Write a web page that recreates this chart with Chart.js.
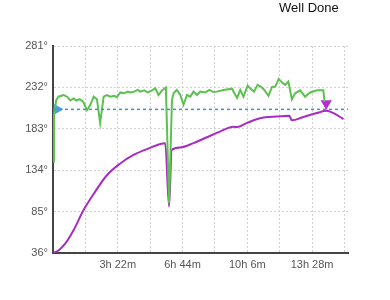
<!DOCTYPE html>
<html><head><meta charset="utf-8">
<script src="https://cdn.jsdelivr.net/npm/chart.js@4/dist/chart.umd.min.js"></script>
<style>html,body{margin:0;padding:0;background:#fff;}#wrap{width:390px;height:300px;position:relative}</style>
</head><body><div id="wrap"><canvas id="c" width="390" height="300"></canvas></div>
<script>
const chartTitle = "Well Done";
// minutes since start
const ambientMinutes = [0,3,7,10,17,33,44,54,64,73,83,94,106,116,127,137,147,158,168,179,191,199,210,222,233,241,253,264,272,285,295,309,319,329,340,352,362,371,376,386,397,407,418,428,438,449,459,475,488,499,511,532,558,574,584,594,607,617,627,638,648,659,672,683,693,704,714,724,734,745,755,771,786,802,823,843,847];
const ambientTemps   = [144,200,209,217,221,223,221,216.5,219,216.5,218,215,205,211,221,218,190,221,223,221,222,220.5,226,225,227,226,227,229,227,228.5,226,228.5,231,223,228.5,232,95,217,225,229,223,211.5,223,221,227,223,227,226,229,226.5,227,229,230.5,219.5,229,221,234,230,227,235,233,229,222,232.5,233,242,238,235,239,218,225,228.5,221,226,228.5,228.5,215];
const internalMinutes = [0,17,38,64,95,127,168,210,251,293,350,362,370,397,438,480,522,563,574,605,646,698,737,745,781,823,852,875,906];
const internalTemps   = [36,39,47,63,86.5,106,128,142,152,159,166,91,158,161,166,173,180,185.5,185,190,195.6,197.5,198.3,193,197,201.6,204.3,201.6,194.4];
const targetTemp = 206;
const targetMarker = {x: 12, y: 206};
const peakMarker = {x: 852, y: 213};
const xGridMinutes = [0,101,202,303,404,505,606,707,808,909];
const xTickValues = [202,404,606,808];
const xTickLabels = ["3h 22m","6h 44m","10h 6m","13h 28m"];
const yTickValues = [36,85,134,183,232,281];
const yTickLabels = ["36°","85°","134°","183°","232°","281°"];

const toXY = (xs, ys) => xs.map((x,i)=>({x, y: ys[i]}));

const titlePlugin = {
  id: 'cornerTitle',
  afterDraw(chart){
    const ctx = chart.ctx;
    ctx.save();
    ctx.font = '13px "Liberation Sans", Arial, sans-serif';
    ctx.fillStyle = '#111';
    ctx.textBaseline = 'alphabetic';
    ctx.fillText(chartTitle, 279, 12);
    ctx.restore();
  }
};

Chart.defaults.font.family = '"Liberation Sans", Arial, sans-serif';

new Chart(document.getElementById('c'), {
  type: 'line',
  data: {
    datasets: [
      {
        data: [{x:0,y:targetTemp},{x:920,y:targetTemp}],
        borderColor: '#3f8fe0', borderWidth: 1.5, borderDash: [3,3],
        pointRadius: 0, tension: 0
      },
      {
        data: toXY(ambientMinutes, ambientTemps),
        borderColor: '#5cc150', borderWidth: 2,
        pointRadius: 0, tension: 0
      },
      {
        data: toXY(internalMinutes, internalTemps),
        borderColor: '#a82cc4', borderWidth: 2,
        pointRadius: 0, cubicInterpolationMode: 'monotone'
      },
      {
        data: [targetMarker],
        showLine: false, pointStyle: 'triangle', rotation: 90,
        pointRadius: 6.5, backgroundColor: '#4a9ce8', borderColor: '#4a9ce8', borderWidth: 0
      },
      {
        data: [peakMarker],
        showLine: false, pointStyle: 'triangle', rotation: 180,
        pointRadius: 6.5, backgroundColor: '#b52fd0', borderColor: '#b52fd0', borderWidth: 0
      }
    ]
  },
  options: {
    responsive: false,
    animation: false,
    devicePixelRatio: 1,
    layout: { padding: { top: 46, right: 42, left: 0, bottom: 0 } },
    plugins: { legend: { display: false }, tooltip: { enabled: false }, title: { display: false } },
    scales: {
      x: {
        type: 'linear', min: 0, max: 920,
        afterBuildTicks: s => { s.ticks = xGridMinutes.map(v => ({value: v})); },
        afterFit: s => { s.height = 47; },
        ticks: {
          autoSkip: false, maxRotation: 0, padding: 5,
          color: '#555', font: { size: 11 },
          callback: v => { const i = xTickValues.indexOf(v); return i >= 0 ? xTickLabels[i] : ''; }
        },
        grid: { color: '#d2d2d2', lineWidth: 1, drawTicks: false },
        border: { display: true, color: '#444', width: 2, dash: [2,2] }
      },
      y: {
        type: 'linear', min: 36, max: 281,
        afterBuildTicks: s => { s.ticks = yTickValues.map(v => ({value: v})); },
        afterFit: s => { s.width = 53; },
        ticks: {
          autoSkip: false, padding: 5,
          color: '#555', font: { size: 11 },
          callback: v => { const i = yTickValues.indexOf(v); return i >= 0 ? yTickLabels[i] : ''; }
        },
        grid: { color: '#d2d2d2', lineWidth: 1, drawTicks: false },
        border: { display: true, color: '#444', width: 2, dash: [2,2] }
      }
    }
  },
  plugins: [titlePlugin]
});
</script>
</body></html>
